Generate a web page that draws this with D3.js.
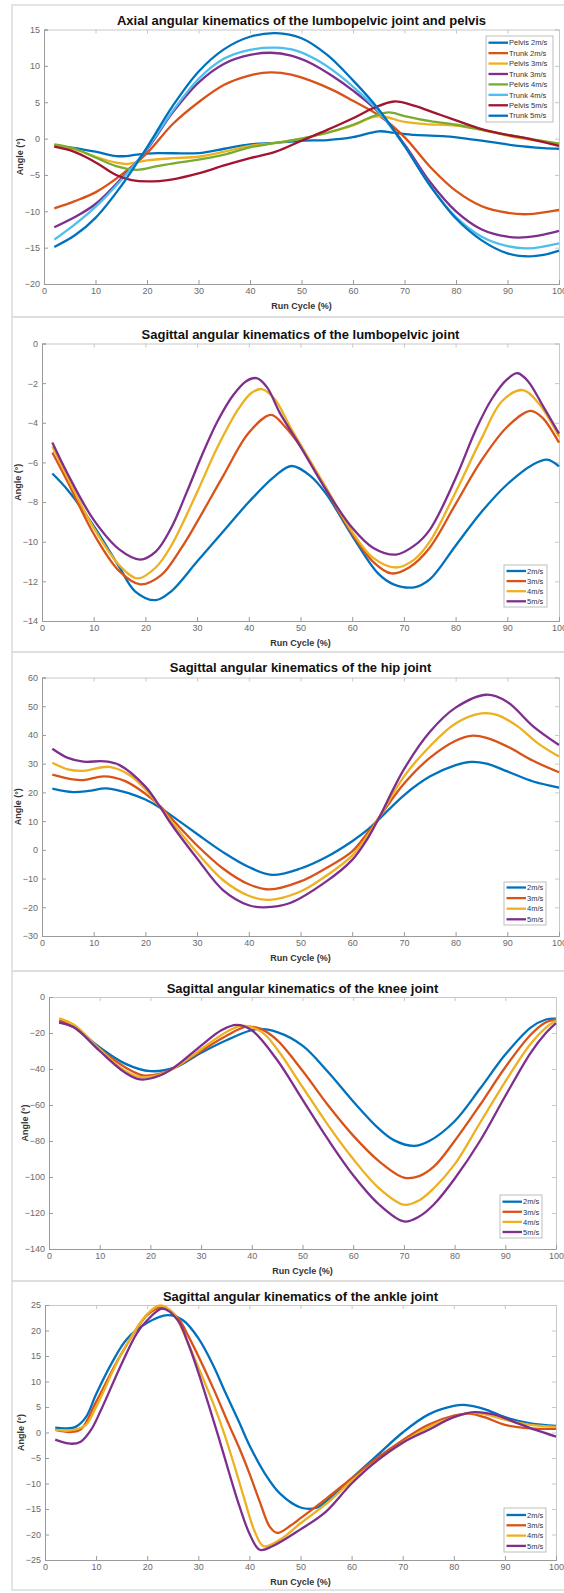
<!DOCTYPE html>
<html>
<head>
<meta charset="utf-8">
<script src="https://cdn.jsdelivr.net/npm/d3@7"></script>
<style>
  body { margin: 0; background: #fff; }
  svg { display: block; }
  text { font-family: "Liberation Sans", Arial, sans-serif; }
</style>
</head>
<body>
<div id="chart"></div>
<script>
// ---- data (x = run cycle %, y = angle in degrees) ----
const xTicks = [0, 10, 20, 30, 40, 50, 60, 70, 80, 90, 100];

// panel 1: axial lumbopelvic / pelvis
const axialTicks = [-20, -15, -10, -5, 0, 5, 10, 15];
const axialNames = ["Pelvis 2m/s", "Trunk 2m/s", "Pelvis 3m/s", "Trunk 3m/s", "Pelvis 4m/s", "Trunk 4m/s", "Pelvis 5m/s", "Trunk 5m/s"];
const axialPelvis2 = [[2,-1.0],[6,-1.3],[10,-1.8],[14,-2.4],[16,-2.4],[18,-2.2],[22,-2.0],[30,-2.0],[35,-1.4],[40,-0.8],[45,-0.6],[50,-0.3],[55,-0.2],[60,0.2],[65,1.0],[68,0.8],[72,0.5],[78,0.3],[82,0.0],[87,-0.5],[92,-1.0],[97,-1.3],[100,-1.4]];
const axialTrunk2 = [[2,-9.6],[6,-8.6],[10,-7.4],[15,-5.0],[20,-2.0],[25,2.0],[30,5.0],[35,7.4],[40,8.7],[44,9.1],[48,8.8],[52,7.9],[56,6.7],[60,5.2],[65,3.2],[70,0.2],[75,-3.9],[80,-7.2],[85,-9.3],[90,-10.2],[94,-10.4],[100,-9.8]];
const axialPelvis3 = [[2,-0.9],[6,-1.5],[10,-2.5],[14,-3.3],[16,-3.5],[20,-3.0],[25,-2.7],[30,-2.5],[35,-1.8],[40,-1.0],[45,-0.6],[50,0.0],[55,0.8],[60,1.8],[64,3.0],[66,3.0],[70,2.3],[74,2.0],[80,1.8],[85,1.2],[90,0.4],[95,-0.2],[100,-0.7]];
const axialTrunk3 = [[2,-12.2],[6,-10.8],[10,-9.0],[15,-5.5],[20,-1.5],[25,3.6],[30,7.7],[35,10.3],[40,11.5],[44,11.8],[48,11.4],[52,10.3],[56,8.6],[60,6.6],[65,3.6],[70,-0.8],[75,-6.0],[80,-10.0],[85,-12.5],[90,-13.5],[93,-13.6],[97,-13.2],[100,-12.7]];
const axialPelvis4 = [[2,-0.8],[6,-1.4],[10,-2.6],[14,-3.8],[18,-4.3],[22,-3.8],[26,-3.3],[30,-2.9],[35,-2.2],[40,-1.2],[45,-0.6],[50,0.0],[55,0.8],[60,1.9],[64,3.1],[67,3.6],[70,3.1],[75,2.4],[80,1.9],[85,1.2],[90,0.5],[95,-0.1],[100,-0.7]];
const axialTrunk4 = [[2,-13.9],[6,-11.8],[10,-9.4],[15,-5.7],[20,-1.4],[25,3.8],[30,8.2],[35,11.0],[40,12.2],[45,12.5],[49,12.1],[53,10.8],[57,8.9],[61,6.5],[65,3.7],[70,-1.0],[75,-6.5],[80,-10.8],[85,-13.5],[90,-14.8],[94,-15.1],[100,-14.4]];
const axialPelvis5 = [[2,-1.1],[5,-1.6],[8,-2.5],[11,-3.7],[14,-5.0],[17,-5.7],[20,-5.9],[25,-5.6],[30,-4.8],[35,-3.7],[40,-2.7],[45,-1.8],[50,-0.3],[55,1.2],[60,2.8],[64,4.2],[68,5.1],[72,4.5],[76,3.5],[80,2.5],[85,1.3],[90,0.5],[94,0.0],[100,-1.0]];
const axialTrunk5 = [[2,-14.9],[6,-13.3],[10,-10.9],[15,-6.5],[20,-1.2],[25,4.5],[30,9.2],[35,12.3],[40,14.0],[45,14.5],[50,13.8],[55,11.5],[60,8.0],[65,4.0],[70,-1.0],[75,-6.5],[80,-11.0],[85,-14.0],[90,-15.8],[94,-16.2],[97,-16.0],[100,-15.4]];

// panel 2: sagittal lumbopelvic
const lumboTicks = [-14, -12, -10, -8, -6, -4, -2, 0];
const speedNames = ["2m/s", "3m/s", "4m/s", "5m/s"];
const lumbo2 = [[2,-6.56],[5,-7.4],[10,-9.2],[15,-11.3],[18,-12.5],[22,-12.95],[25,-12.5],[30,-11.0],[35,-9.5],[40,-8.0],[45,-6.7],[48.3,-6.18],[52,-6.7],[55,-7.6],[60,-9.7],[65,-11.6],[68,-12.15],[72,-12.3],[75,-11.9],[80,-10.2],[85,-8.5],[90,-7.1],[95,-6.1],[97.7,-5.86],[100,-6.2]];
const lumbo3 = [[2,-5.5],[5,-7.0],[10,-9.6],[15,-11.5],[19,-12.15],[23,-11.7],[27,-10.3],[30,-9.0],[35,-6.7],[40,-4.5],[44.3,-3.6],[47,-4.2],[50,-5.2],[55,-7.4],[60,-9.6],[64,-11.0],[67.6,-11.6],[71,-11.3],[75,-10.3],[80,-8.1],[85,-5.9],[90,-4.2],[94.5,-3.4],[97,-3.8],[100,-5.0]];
const lumbo4 = [[2,-5.2],[5,-6.8],[10,-9.3],[15,-11.2],[18.5,-11.85],[22,-11.3],[25,-10.2],[30,-7.5],[34,-5.2],[38,-3.3],[40.5,-2.5],[42.5,-2.3],[45,-2.8],[48,-4.2],[50,-5.1],[55,-7.3],[60,-9.5],[64,-10.8],[68.5,-11.3],[72,-10.9],[75,-10.0],[80,-7.5],[85,-4.8],[89,-2.9],[93,-2.35],[96,-3.0],[100,-4.7]];
const lumbo5 = [[2,-5.0],[5,-6.6],[10,-8.9],[15,-10.4],[19,-10.9],[22,-10.5],[25,-9.3],[28,-7.5],[31,-5.6],[34,-3.9],[37,-2.6],[39.5,-1.9],[41.5,-1.75],[43.5,-2.2],[46,-3.5],[50,-5.2],[55,-7.4],[60,-9.3],[64,-10.3],[68.5,-10.65],[72,-10.2],[75,-9.4],[80,-6.8],[84,-4.3],[87,-2.8],[90,-1.8],[92,-1.5],[94,-1.9],[97,-3.2],[100,-4.55]];

// panel 3: sagittal hip
const hipTicks = [-30, -20, -10, 0, 10, 20, 30, 40, 50, 60];
const hip2 = [[2,21.3],[6,20.1],[9,20.5],[12.5,21.4],[17,19.6],[20,17.5],[23,14.5],[25,12.0],[30,5.5],[35,-0.8],[40,-6.0],[44.5,-8.7],[50,-6.5],[55,-2.5],[60,3.0],[63,7.0],[65,10.3],[70,19.0],[75,25.5],[80,29.5],[83,30.6],[86,30.0],[90,27.3],[95,23.8],[100,21.7]];
const hip3 = [[2,26.2],[6,24.5],[8,24.3],[12,25.6],[16,24.0],[20,19.5],[23,15.0],[25,11.0],[30,1.5],[35,-6.5],[40,-12.0],[44,-13.8],[50,-11.0],[55,-6.3],[60,-0.5],[63,6.0],[65,10.8],[70,23.0],[75,32.0],[80,38.0],[83,39.7],[86,39.0],[90,36.0],[95,31.0],[100,27.0]];
const hip4 = [[2,30.3],[5,28.0],[8,27.5],[13,28.9],[17,26.0],[20,21.0],[23,14.5],[25,10.0],[30,-1.0],[35,-10.5],[40,-16.0],[44,-17.4],[50,-14.5],[55,-9.0],[60,-2.0],[63,5.0],[65,10.5],[70,25.5],[75,36.0],[80,44.0],[85,47.5],[88,47.0],[92,43.0],[96,37.0],[100,32.5]];
const hip5 = [[2,35.2],[5,32.0],[8,30.7],[12,30.8],[15,29.5],[20,22.0],[23,14.5],[25,9.0],[30,-3.0],[35,-14.0],[40,-19.3],[43,-20.0],[48,-18.5],[55,-11.0],[60,-3.5],[63,4.0],[65,10.5],[70,28.0],[75,41.0],[80,49.5],[86,54.0],[90,51.5],[95,43.0],[100,36.5]];

// panel 4: sagittal knee
const kneeTicks = [-140, -120, -100, -80, -60, -40, -20, 0];
const knee2 = [[2,-13.9],[5,-17],[10,-28],[15,-37],[20,-41.2],[25,-39],[30,-31],[35,-24],[41,-17.8],[45,-19.5],[50,-27],[55,-41.5],[60,-58],[65,-73],[68,-79.5],[72,-82.7],[75,-80],[80,-69],[85,-51],[90,-32],[95,-17],[98,-12.5],[100,-12]];
const knee3 = [[2,-13],[5,-17],[10,-29],[15,-39],[18.5,-43.5],[22,-42.5],[25,-39],[30,-30],[35,-21.5],[39,-16.5],[42,-18],[45,-24],[50,-41],[55,-60],[60,-77],[65,-91],[70,-100.3],[73,-99.5],[76,-94],[80,-80],[85,-60],[90,-39],[95,-21],[98,-14],[100,-12.5]];
const knee4 = [[2,-11.8],[5,-15.5],[10,-29],[15,-41],[18,-44.5],[22,-43],[25,-39],[30,-29],[35,-19.5],[38,-16],[42,-19.5],[45,-29],[50,-50],[55,-71],[60,-90],[65,-106],[70,-115.4],[73,-113],[76,-106],[80,-93],[85,-70],[90,-47],[95,-26],[98,-17],[100,-13]];
const knee5 = [[2,-14.3],[5,-17],[10,-30],[15,-42],[18,-45.8],[22,-43.5],[25,-38.5],[30,-27],[34,-18.5],[37,-15.5],[40,-18.5],[45,-35],[50,-57],[55,-79],[60,-99],[65,-115],[70,-124.7],[73,-122],[76,-115],[80,-101],[85,-80],[90,-55],[95,-31],[98,-20],[100,-14.5]];

// panel 5: sagittal ankle
const ankleTicks = [-25, -20, -15, -10, -5, 0, 5, 10, 15, 20, 25];
const ankle2 = [[2,0.95],[4,0.8],[6,1.1],[8,3.0],[10,7.5],[13,13.5],[16,18.3],[20,21.5],[24,23.0],[27,22.0],[30,18.5],[33,13.0],[35,8.5],[38,2.0],[40,-2.5],[43,-8.0],[46,-12.0],[50,-14.7],[53,-14.8],[55,-13.5],[60,-9.0],[65,-4.5],[70,0.0],[75,3.5],[80,5.2],[82,5.4],[86,4.6],[90,3.0],[95,1.8],[100,1.3]];
const ankle3 = [[2,0.5],[5,0.1],[7,0.6],[10,6.0],[15,15.5],[20,23.0],[23,24.6],[26,22.5],[28,19.0],[30,15.0],[33,8.5],[36,1.5],[38,-3.0],[40,-8.0],[42,-13.5],[44,-18.5],[45.5,-19.7],[48,-18.3],[50,-16.8],[55,-13.0],[60,-9.0],[65,-5.0],[70,-1.5],[75,1.5],[80,3.3],[83,3.7],[86,3.0],[90,1.5],[95,0.8],[100,0.7]];
const ankle4 = [[2,0.5],[5,0.4],[8,1.5],[10,5.0],[15,15.5],[20,23.2],[22.5,24.9],[25,23.5],[28,17.5],[30,12.8],[33,5.5],[35,0.0],[37,-6.3],[39,-13.0],[41,-19.3],[42.8,-22.3],[46,-21.0],[50,-17.8],[55,-14.0],[60,-9.5],[65,-5.5],[70,-2.0],[75,1.0],[80,3.0],[83,3.8],[86,3.6],[90,2.5],[95,1.5],[100,1.1]];
const ankle5 = [[2,-1.4],[5,-2.2],[7,-1.8],[9,0.5],[11,4.5],[15,13.5],[18,19.5],[20,22.0],[23,24.3],[26,22.0],[28,17.5],[30,11.8],[32,5.5],[34,-1.0],[36,-7.8],[38,-14.3],[40,-19.8],[42,-23.0],[44.5,-22.3],[50,-19.0],[55,-15.5],[60,-10.0],[65,-5.5],[70,-2.0],[75,0.5],[80,3.0],[84,4.0],[88,3.5],[92,2.0],[96,0.5],[100,-0.8]];

const titles = [
  "Axial angular kinematics of the lumbopelvic joint and pelvis",
  "Sagittal angular kinematics of the lumbopelvic joint",
  "Sagittal angular kinematics of the hip joint",
  "Sagittal angular kinematics of the knee joint",
  "Sagittal angular kinematics of the ankle joint"
];

// matlab default line colours
const blue = "#0072BD", orange = "#D95319", yellow = "#EDB120", purple = "#7E2F8E",
      green = "#77AC30", cyan = "#4DBEEE", darkred = "#A2142F";
const axialColors = [blue, orange, yellow, purple, green, cyan, darkred, blue];
const speedColors = [blue, orange, yellow, purple];

// layout of the five stacked figures (pixels)
const panels = [
  { frame: 5,    x0: 44, x1: 559, top: 29.5,  bottom: 284,  titleY: 20,   ticks: axialTicks,
    series: [axialPelvis2, axialTrunk2, axialPelvis3, axialTrunk3, axialPelvis4, axialTrunk4, axialPelvis5, axialTrunk5],
    names: axialNames, colors: axialColors, legend: { x: 486, y: 36, w: 67, h: 86, first: 42.7, step: 10.43 } },
  { frame: 317,  x0: 42, x1: 559, top: 343.5, bottom: 621,  titleY: 334,  ticks: lumboTicks,
    series: [lumbo2, lumbo3, lumbo4, lumbo5], names: speedNames, colors: speedColors,
    legend: { x: 504, y: 565, w: 43, h: 42, first: 571, step: 10.1 } },
  { frame: 652,  x0: 42, x1: 559, top: 677.5, bottom: 936,  titleY: 667,  ticks: hipTicks,
    series: [hip2, hip3, hip4, hip5], names: speedNames, colors: speedColors,
    legend: { x: 504, y: 882, w: 42, h: 43, first: 887.5, step: 10.6 } },
  { frame: 971,  x0: 49, x1: 556, top: 997,   bottom: 1249, titleY: 988,  ticks: kneeTicks,
    series: [knee2, knee3, knee4, knee5], names: speedNames, colors: speedColors,
    legend: { x: 500, y: 1195, w: 42, h: 43, first: 1201.7, step: 10.1 } },
  { frame: 1281, x0: 45, x1: 556, top: 1305,  bottom: 1560, titleY: 1296, ticks: ankleTicks,
    series: [ankle2, ankle3, ankle4, ankle5], names: speedNames, colors: speedColors,
    legend: { x: 504, y: 1508, w: 42, h: 44, first: 1515, step: 10.3 } }
];

const W = 564, H = 1593;
const svg = d3.select("#chart").append("svg").attr("width", W).attr("height", H);

const axisColor = "#9a9a9a";
const tickLen = 4;

panels.forEach((p, i) => {
  const nextTop = i < panels.length - 1 ? panels[i + 1].frame : H - 3;

  // screenshot frame around each figure
  svg.append("rect")
    .attr("x", 12).attr("y", p.frame)
    .attr("width", W + 10).attr("height", nextTop - p.frame)
    .attr("fill", "none").attr("stroke", "#dcdcdc").attr("stroke-width", 1.5);

  const x = d3.scaleLinear().domain([0, 100]).range([p.x0, p.x1]);
  const y = d3.scaleLinear().domain(d3.extent(p.ticks)).range([p.bottom, p.top]);
  const g = svg.append("g");

  // box (top / right) with inward ticks
  g.append("g").attr("transform", `translate(0,${p.top})`)
    .call(d3.axisBottom(x).tickValues(xTicks).tickSize(tickLen).tickFormat(""))
    .call(a => a.selectAll("line, path").attr("stroke", "#c8c8c8"));
  g.append("g").attr("transform", `translate(${p.x1},0)`)
    .call(d3.axisLeft(y).tickValues(p.ticks).tickSize(tickLen).tickFormat(""))
    .call(a => a.selectAll("line, path").attr("stroke", "#c8c8c8"));

  // bottom axis
  const xa = g.append("g").attr("transform", `translate(0,${p.bottom})`)
    .call(d3.axisTop(x).tickValues(xTicks).tickSize(tickLen).tickPadding(-14));
  xa.selectAll("line, path").attr("stroke", axisColor);
  xa.selectAll("text").attr("fill", "#6a6a6a").attr("font-size", 9)
    .attr("font-family", "Liberation Sans, Arial, sans-serif");

  // left axis
  const ya = g.append("g").attr("transform", `translate(${p.x0},0)`)
    .call(d3.axisRight(y).tickValues(p.ticks).tickSize(tickLen).tickPadding(-8));
  ya.selectAll("line, path").attr("stroke", axisColor);
  ya.selectAll("text").attr("fill", "#6a6a6a").attr("font-size", 9)
    .attr("text-anchor", "end")
    .attr("font-family", "Liberation Sans, Arial, sans-serif");

  // title and axis labels
  g.append("text")
    .attr("x", (p.x0 + p.x1) / 2).attr("y", p.titleY + 4.5)
    .attr("text-anchor", "middle").attr("font-size", 13).attr("font-weight", "bold")
    .attr("fill", "#111").text(titles[i]);
  g.append("text")
    .attr("x", (p.x0 + p.x1) / 2).attr("y", p.bottom + 25)
    .attr("text-anchor", "middle").attr("font-size", 9).attr("font-weight", "bold")
    .attr("fill", "#333").text("Run Cycle (%)");
  g.append("text")
    .attr("transform", `translate(${p.x0 - 21},${(p.top + p.bottom) / 2}) rotate(-90)`)
    .attr("text-anchor", "middle").attr("font-size", 9).attr("font-weight", "bold")
    .attr("fill", "#333").text("Angle (°)");

  // curves
  const line = d3.line()
    .x(d => x(d[0]))
    .y(d => y(d[1]))
    .curve(d3.curveCatmullRom.alpha(0.5));

  g.selectAll(".curve")
    .data(p.series)
    .enter().append("path")
    .attr("class", "curve")
    .attr("fill", "none")
    .attr("stroke", (d, k) => p.colors[k])
    .attr("stroke-width", 2.3)
    .attr("d", line);

  // legend
  const L = p.legend;
  const lg = g.append("g");
  lg.append("rect")
    .attr("x", L.x).attr("y", L.y).attr("width", L.w).attr("height", L.h)
    .attr("fill", "#fff").attr("stroke", "#bdbdbd").attr("stroke-width", 1);
  p.names.forEach((name, k) => {
    const ly = L.first + k * L.step;
    lg.append("line")
      .attr("x1", L.x + 2.5).attr("x2", L.x + 22)
      .attr("y1", ly).attr("y2", ly)
      .attr("stroke", p.colors[k]).attr("stroke-width", 2.3);
    lg.append("text")
      .attr("x", L.x + 23).attr("y", ly + 2.7)
      .attr("font-size", 7.5).attr("fill", "#333").text(name);
  });
});
</script>
</body>
</html>
